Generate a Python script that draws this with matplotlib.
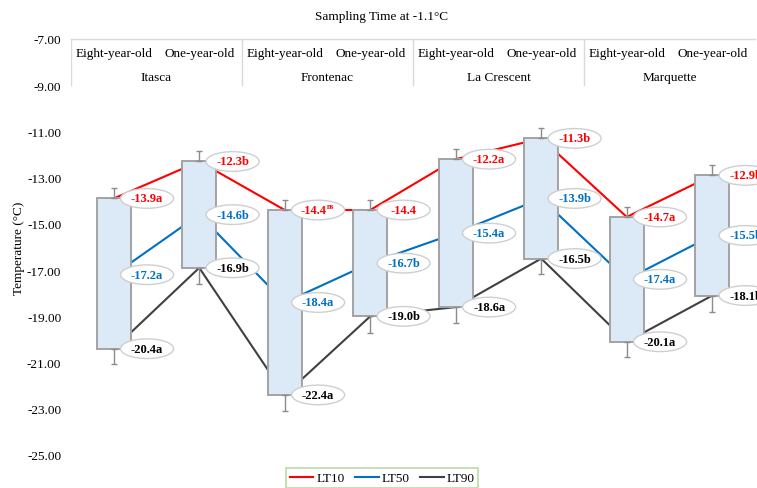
import numpy as np
import matplotlib.pyplot as plt
from matplotlib.patches import Ellipse

plt.rcParams['font.family'] = ['Liberation Serif', 'DejaVu Serif']

# cultivars and stem ages
cultivars = ["Itasca", "Frontenac", "La Crescent", "Marquette"]
ages = ["Eight-year-old", "One-year-old"]

# lethal temperatures (°C)
lt10 = [-13.9, -12.3, -14.4, -14.4, -12.2, -11.3, -14.7, -12.9]
lt50 = [-17.2, -14.6, -18.4, -16.7, -15.4, -13.9, -17.4, -15.5]
lt90 = [-20.4, -16.9, -22.4, -19.0, -18.6, -16.5, -20.1, -18.1]

# mean separation letters
lt10_let = ["a", "b", "ns", "", "a", "b", "a", "b"]
lt50_let = ["a", "b", "a", "b", "a", "b", "a", "b"]
lt90_let = ["a", "b", "a", "b", "a", "b", "a", "b"]

# error bars: above LT10, below LT90
err_top = [0.46, 0.45, 0.45, 0.45, 0.43, 0.45, 0.42, 0.46]
err_bot = [0.68, 0.69, 0.68, 0.70, 0.70, 0.67, 0.65, 0.70]

RED = "#ff0000"
BLUE = "#0070c0"
DARK = "#404040"

fig = plt.figure(figsize=(7.57, 4.89), dpi=100)
ax = fig.add_axes([71 / 757, 1 - 456 / 489, 684 / 757, 416 / 489])

x = np.arange(len(lt10)) + 0.5
lo = np.array(lt90)
hi = np.array(lt10)

ax.plot(x, lt10, color=RED, lw=1.5, zorder=1, label="LT10")
ax.plot(x, lt50, color=BLUE, lw=1.5, zorder=1, label="LT50")
ax.plot(x, lt90, color=DARK, lw=1.5, zorder=1, label="LT90")

ax.bar(x, hi - lo, bottom=lo, width=0.4, color="#dce9f6",
       edgecolor="#a3a3a3", linewidth=1.4, zorder=2)

zeros = np.zeros(len(x))
ax.errorbar(x, lt10, yerr=[zeros, err_top], fmt="none", ecolor="#8c8c8c",
            elinewidth=1, capsize=2.5, capthick=1, zorder=3)
ax.errorbar(x, lt90, yerr=[err_bot, zeros], fmt="none", ecolor="#8c8c8c",
            elinewidth=1, capsize=2.5, capthick=1, zorder=3)

# value labels in ellipses to the right of each bar
dx = 0.39
ew, eh = 0.62, 0.85
for vals, lets, col in [(lt10, lt10_let, RED), (lt50, lt50_let, BLUE),
                        (lt90, lt90_let, "black")]:
    for xi, v, l in zip(x, vals, lets):
        cx = xi + dx
        ax.add_patch(Ellipse((cx, v), ew, eh, facecolor="white",
                             edgecolor="#cfcfcf", lw=1, zorder=4, clip_on=False))
        if l == "ns":
            ax.annotate(f"{v:.1f}", (cx, v), xytext=(6, 0), textcoords="offset points",
                        ha="right", va="center", fontsize=9, fontweight="bold",
                        color=col, zorder=5, annotation_clip=False)
            ax.annotate(l, (cx, v), xytext=(6, 3), textcoords="offset points",
                        ha="left", va="center", fontsize=5.5, fontweight="bold",
                        color=col, zorder=5, annotation_clip=False)
        else:
            ax.text(cx, v, f"{v:.1f}{l}", ha="center", va="center", fontsize=9,
                    fontweight="bold", color=col, zorder=5, clip_on=False)

# header rows with ages and cultivars
grid_c = "#d9d9d9"
ax.plot([0, 8], [-7, -7], color=grid_c, lw=1, clip_on=False)
for g in range(4):
    ax.plot([2 * g, 2 * g], [-7, -9], color=grid_c, lw=1)
    ax.text(2 * g + 1, -8.66, cultivars[g], ha="center", va="center", fontsize=9.5)
    for k in range(2):
        ax.text(2 * g + k + 0.5, -7.62, ages[k], ha="center", va="center", fontsize=9.5)

ax.set_xlim(0, 8)
ax.set_ylim(-25, -7)
ax.set_yticks(np.arange(-25, -6, 2))
ax.set_yticklabels([f"{t:.2f}" for t in np.arange(-25, -6, 2)], fontsize=9.5)
ax.set_xticks([])
ax.tick_params(axis="y", length=0, pad=7)
for s in ax.spines.values():
    s.set_visible(False)

ax.set_ylabel("Temperature (°C)", fontsize=9.5)
ax.yaxis.set_label_coords(-0.067, 0.5)

fig.text(382 / 757, 1 - 17 / 489, "Sampling Time at -1.1°C", ha="center",
         va="center", fontsize=9.5)

leg = fig.legend(loc="upper center", bbox_to_anchor=(382 / 757, 1 - 469 / 489),
                 ncol=3, fontsize=9.5, frameon=True, fancybox=False,
                 edgecolor="#a9d18e", handlelength=1.8, handletextpad=0.2,
                 columnspacing=0.8, borderpad=0.3, borderaxespad=0)
leg.get_frame().set_linewidth(1.2)

fig.savefig("out.png", dpi=100)
